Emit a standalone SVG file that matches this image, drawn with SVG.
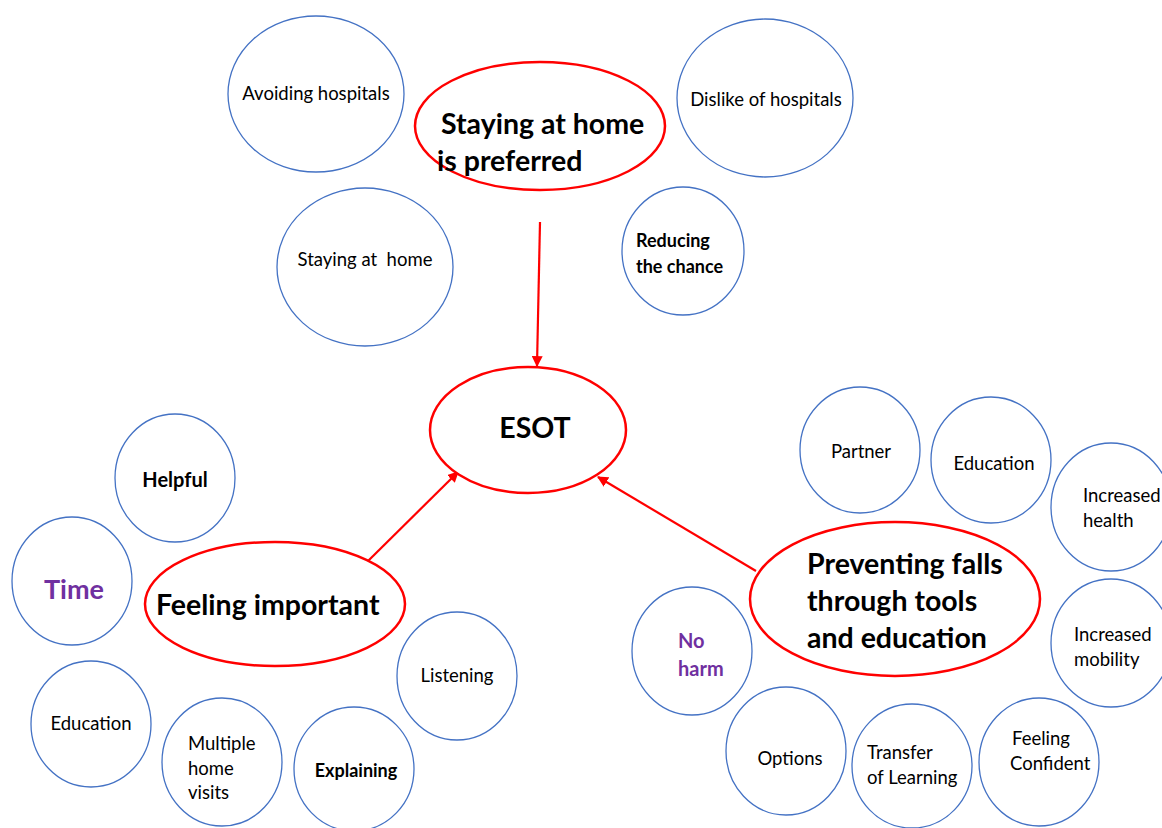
<svg xmlns="http://www.w3.org/2000/svg" width="1162" height="828" viewBox="0 0 1162 828">
<style>
.main{fill:#fff;stroke:#FF0000;stroke-width:2.5}
.sub{fill:#fff;stroke:#4472C4;stroke-width:1.3}
text{font-family:Lato,"Open Sans",sans-serif;fill:#000}
.big{font-size:28.5px;font-weight:bold}
.sm{font-size:18.5px}
.smb{font-size:18px;font-weight:bold}
.pur{fill:#7030A0;font-weight:bold}
.c{text-anchor:middle}
.conn{stroke:#FF0000;stroke-width:2.2;fill:none;marker-end:url(#ah)}
</style>
<defs>
<marker id="ah" viewBox="0 0 10 10" refX="9" refY="5" markerWidth="5" markerHeight="5" orient="auto" markerUnits="strokeWidth">
<path d="M0,0 L10,5 L0,10 z" fill="#FF0000"/>
</marker>
</defs>
<rect width="1162" height="828" fill="#fff"/>
<g id="connectors">
<line class="conn" x1="540" y1="222" x2="537" y2="366"/>
<line class="conn" x1="367" y1="562" x2="458" y2="472"/>
<line class="conn" x1="756" y1="571" x2="598" y2="477"/>
</g>
<g id="n-staying-pref"><ellipse class="main" cx="540" cy="126" rx="125" ry="64"/><text class="big" x="441" y="134">Staying at home</text><text class="big" x="437" y="171">is preferred</text></g>
<g id="n-esot"><ellipse class="main" cx="528" cy="430" rx="98" ry="63"/><text class="big c" x="535" y="438">ESOT</text></g>
<g id="n-feeling"><ellipse class="main" cx="275" cy="604" rx="130" ry="62"/><text class="big" x="156" y="615">Feeling important</text></g>
<g id="n-preventing"><ellipse class="main" cx="895" cy="599" rx="145" ry="77"/><text class="big" x="807" y="574">Preventing falls</text><text class="big" x="807" y="611">through tools</text><text class="big" x="807" y="648">and education</text></g>
<g id="n-avoiding"><ellipse class="sub" cx="316" cy="94" rx="88" ry="78"/><text class="sm c" x="316" y="100">Avoiding hospitals</text></g>
<g id="n-dislike"><ellipse class="sub" cx="765" cy="98" rx="88" ry="79"/><text class="sm c" x="766" y="106">Dislike of hospitals</text></g>
<g id="n-staying"><ellipse class="sub" cx="365" cy="267" rx="88" ry="79"/><text class="sm c" x="365" y="266" xml:space="preserve">Staying at  home</text></g>
<g id="n-reducing"><ellipse class="sub" cx="683" cy="251" rx="61" ry="64"/><text class="smb" x="636" y="247">Reducing</text><text class="smb" x="636" y="273">the chance</text></g>
<g id="n-helpful"><ellipse class="sub" cx="175" cy="478" rx="60" ry="64"/><text class="c" x="175" y="487" style="font-size:20px;font-weight:bold">Helpful</text></g>
<g id="n-time"><ellipse class="sub" cx="72" cy="581" rx="60" ry="64"/><text class="c pur" x="74" y="599" style="font-size:27px">Time</text></g>
<g id="n-education-l"><ellipse class="sub" cx="91" cy="724" rx="60" ry="63"/><text class="sm c" x="91" y="730">Education</text></g>
<g id="n-multiple"><ellipse class="sub" cx="222" cy="762" rx="60" ry="64"/><text class="sm" x="188" y="750">Multiple</text><text class="sm" x="188" y="775">home</text><text class="sm" x="188" y="799">visits</text></g>
<g id="n-explaining"><ellipse class="sub" cx="354" cy="769" rx="60" ry="62"/><text class="smb c" x="356" y="777">Explaining</text></g>
<g id="n-listening"><ellipse class="sub" cx="457" cy="676" rx="60" ry="64"/><text class="sm c" x="457" y="682">Listening</text></g>
<g id="n-partner"><ellipse class="sub" cx="860" cy="450" rx="60" ry="63"/><text class="sm c" x="861" y="458">Partner</text></g>
<g id="n-education-r"><ellipse class="sub" cx="991" cy="460" rx="60" ry="63"/><text class="sm c" x="994" y="470">Education</text></g>
<g id="n-health"><ellipse class="sub" cx="1111" cy="507" rx="60" ry="64"/><text class="sm" x="1083" y="502">Increased</text><text class="sm" x="1083" y="527">health</text></g>
<g id="n-mobility"><ellipse class="sub" cx="1111" cy="643" rx="60" ry="64"/><text class="sm" x="1074" y="641">Increased</text><text class="sm" x="1074" y="666">mobility</text></g>
<g id="n-noharm"><ellipse class="sub" cx="692" cy="651" rx="60" ry="64"/><text class="pur" x="678" y="648" style="font-size:20px">No</text><text class="pur" x="678" y="676" style="font-size:20px">harm</text></g>
<g id="n-options"><ellipse class="sub" cx="786" cy="751" rx="60" ry="64"/><text class="sm c" x="790" y="765">Options</text></g>
<g id="n-transfer"><ellipse class="sub" cx="912" cy="766" rx="60" ry="62"/><text class="sm" x="867" y="759">Transfer</text><text class="sm" x="867" y="784">of Learning</text></g>
<g id="n-confident"><ellipse class="sub" cx="1039" cy="762" rx="60" ry="64"/><text class="sm" x="1012" y="745">Feeling</text><text class="sm" x="1010" y="770">Confident</text></g>
</svg>
